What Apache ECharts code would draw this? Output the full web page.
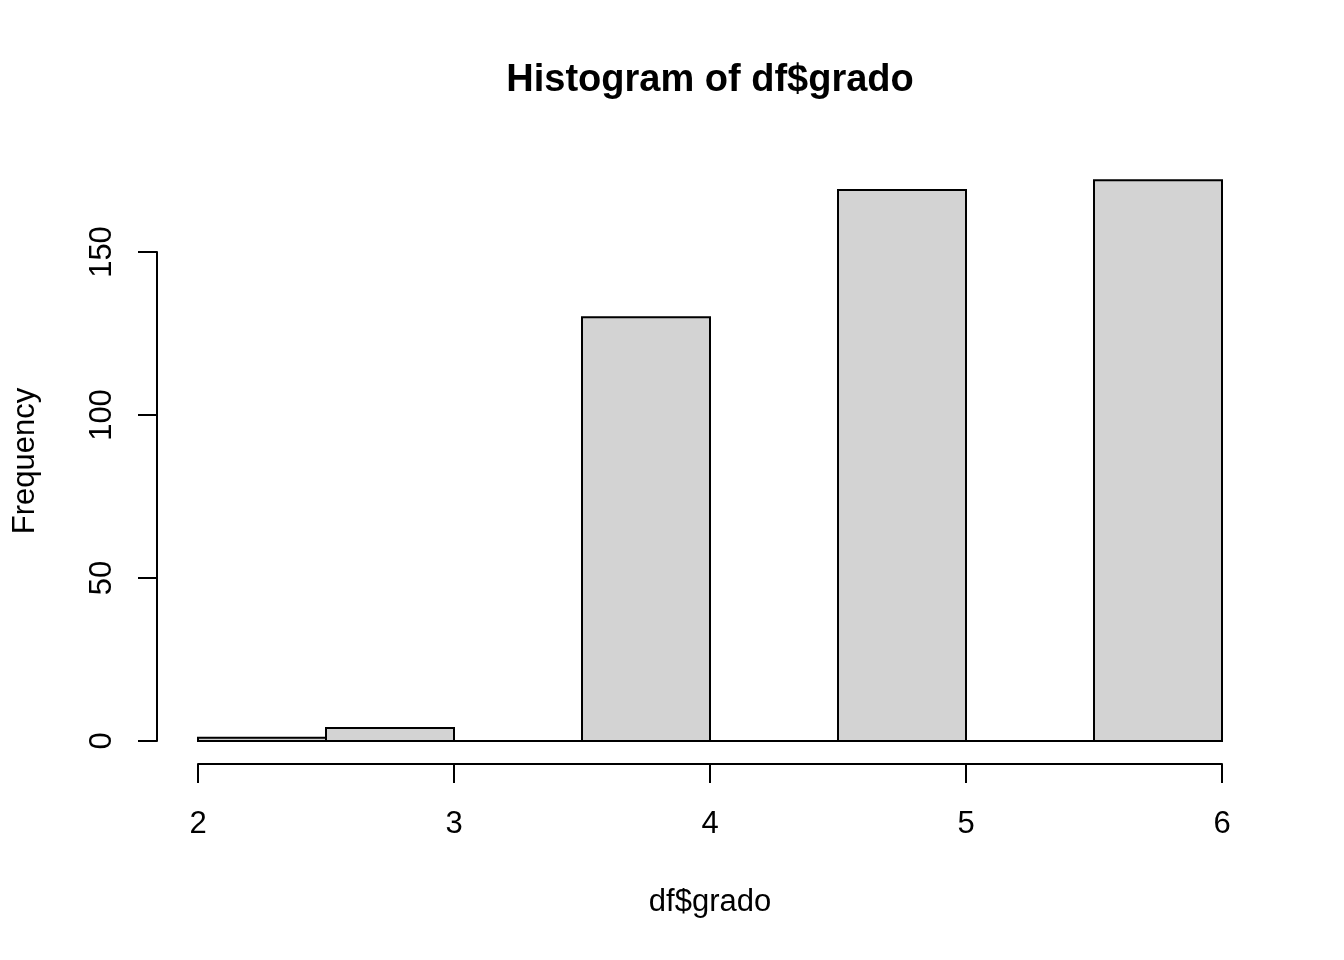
<!DOCTYPE html>
<html>
<head>
<meta charset="utf-8">
<script src="https://cdn.jsdelivr.net/npm/echarts@6/dist/echarts.min.js"></script>
<style>html,body{margin:0;padding:0;background:#fff}#c{width:1344px;height:960px}</style>
</head>
<body>
<div id="c"></div>
<script>
const binStart = [2, 2.5, 3, 3.5, 4, 4.5, 5, 5.5];
const binEnd   = [2.5, 3, 3.5, 4, 4.5, 5, 5.5, 6];
const counts   = [1, 4, 0, 130, 0, 169, 0, 172];
const xTicks = [2, 3, 4, 5, 6];
const yTicks = [0, 50, 100, 150];
const titleText = 'Histogram of df$grado';
const xName = 'df$grado';
const yName = 'Frequency';

const FONT = '"Liberation Sans", Arial, sans-serif';
const chart = echarts.init(document.getElementById('c'), null, {renderer: 'canvas'});
const data = binStart.map((s, i) => [s, binEnd[i], counts[i]]);

chart.setOption({
  backgroundColor: '#ffffff',
  animation: false,
  graphic: [{
    type: 'text', x: 710, y: 81,
    style: {text: titleText, font: 'bold 38px ' + FONT, fill: '#000', align: 'center', verticalAlign: 'middle'}
  }],
  grid: [
    {left: 198, right: 122, top: 252, bottom: 219},
    {left: 157, right: 81, top: 158, bottom: 196}
  ],
  xAxis: [{
    gridIndex: 0, type: 'value', position: 'bottom', min: xTicks[0], max: xTicks[xTicks.length - 1], interval: 1,
    offset: 23,
    axisLine: {show: true, onZero: false, lineStyle: {color: '#000', width: 2}},
    axisTick: {show: true, length: 19, lineStyle: {color: '#000', width: 2}},
    axisLabel: {show: true, margin: 45, color: '#000', fontSize: 31, fontFamily: FONT},
    splitLine: {show: false}
  }, {
    gridIndex: 1, type: 'value', min: 1.84, max: 6.16,
    name: xName, nameLocation: 'middle', nameGap: 123,
    nameTextStyle: {color: '#000', fontSize: 31, fontFamily: FONT},
    axisLine: {show: false, onZero: false}, axisTick: {show: false}, axisLabel: {show: false}, splitLine: {show: false}
  }],
  yAxis: [{
    gridIndex: 0, type: 'value', position: 'left', min: yTicks[0], max: yTicks[yTicks.length - 1], interval: 50,
    offset: 41,
    axisLine: {show: true, onZero: false, lineStyle: {color: '#000', width: 2}},
    axisTick: {show: true, length: 19, lineStyle: {color: '#000', width: 2}},
    axisLabel: {show: true, rotate: 90, margin: 39, color: '#000', fontSize: 31, fontFamily: FONT},
    splitLine: {show: false}
  }, {
    gridIndex: 1, type: 'value', min: -6.88, max: 178.88,
    name: yName, nameLocation: 'middle', nameGap: 116, nameRotate: 90,
    nameTextStyle: {color: '#000', fontSize: 31, fontFamily: FONT},
    axisLine: {show: false, onZero: false}, axisTick: {show: false}, axisLabel: {show: false}, splitLine: {show: false}
  }],
  series: [{
    type: 'custom',
    xAxisIndex: 0, yAxisIndex: 0,
    clip: false,
    data: data,
    renderItem: function (params, api) {
      const p0 = api.coord([api.value(0), api.value(2)]);
      const p1 = api.coord([api.value(1), 0]);
      return {
        type: 'rect',
        shape: {x: p0[0], y: p0[1], width: p1[0] - p0[0], height: p1[1] - p0[1]},
        style: {fill: '#D3D3D3', stroke: '#000', lineWidth: 2}
      };
    }
  }]
});
</script>
</body>
</html>
